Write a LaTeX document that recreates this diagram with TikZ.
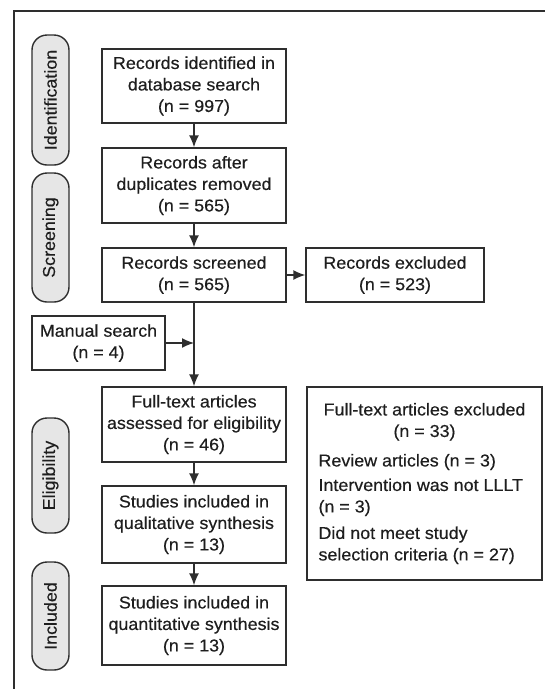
\documentclass[tikz,border=0pt]{standalone}
\usepackage{fontspec}
\setmainfont{Liberation Sans}[FakeStretch=1.04,FakeBold=0.4]
\usetikzlibrary{arrows.meta}
\definecolor{ink}{HTML}{1E1E1E}
\definecolor{linec}{HTML}{2E2E2E}
\definecolor{pillfill}{HTML}{E6E6E6}
\begin{document}
\begin{tikzpicture}[x=1pt,y=-1pt,
  every node/.style={font=\fontsize{17.2}{21.5}\selectfont, text=ink},
  flowbox/.style={draw=linec, line width=1.4pt, rectangle, align=center, inner sep=0pt, minimum width=184pt},
  pill/.style={draw=linec, line width=1.4pt, fill=pillfill, rounded corners=15pt, rotate=90, minimum height=37pt, inner sep=0pt},
  arr/.style={draw=linec, line width=1.4pt, -{Latex[length=12pt,width=10pt]}},
  frame/.style={draw=linec, line width=1.6pt}
]
\useasboundingbox (0,0) rectangle (545,689);
\draw[frame] (545,11) -- (14,11) -- (14,689);

% stage pills
\node[pill, minimum width=130pt] (pid) at (50.5,100) {Identification};
\node[pill, minimum width=129pt] (psc) at (50.5,237.5) {Screening};
\node[pill, minimum width=115pt] (pel) at (50.5,475.5) {Eligibility};
\node[pill, minimum width=108pt] (pin) at (50.5,616) {Included};

% main boxes
\node[flowbox, minimum height=74pt] (b1) at (194,86) {Records identified in\\database search\\(n = 997)};
\node[flowbox, minimum height=75pt] (b2) at (194,185.5) {Records after\\duplicates removed\\(n = 565)};
\node[flowbox, minimum height=54pt] (b3) at (194,275) {Records screened\\(n = 565)};
\node[flowbox, minimum width=178pt, minimum height=54pt] (bx) at (395,275) {Records excluded\\(n = 523)};
\node[flowbox, minimum width=133pt, minimum height=54pt] (bm) at (98.5,343) {Manual search\\(n = 4)};
\node[flowbox, minimum height=75pt] (b4) at (194,424.5) {Full-text articles\\assessed for eligibility\\(n = 46)};
\node[flowbox, minimum height=77pt] (b5) at (194,524.5) {Studies included in\\qualitative synthesis\\(n = 13)};
\node[flowbox, minimum height=79pt] (b6) at (194,625.5) {Studies included in\\quantitative synthesis\\(n = 13)};
\node[flowbox, minimum width=235pt, minimum height=193pt, align=left] (bf) at (424.5,483.5)
  {\makebox[212pt]{Full-text articles excluded}\\
   \makebox[212pt]{(n = 33)}\\[8pt]
   Review articles (n = 3)\\[3pt]
   Intervention was not LLLT\\
   (n = 3)\\[5pt]
   Did not meet study\\
   selection criteria (n = 27)};

% connectors
\coordinate (join) at (b3.south |- bm.east);
\draw[arr] (b1) -- (b2);
\draw[arr] (b2) -- (b3);
\draw[arr] (b3) -- (bx);
\draw[arr] (b3) -- (b4);
\draw[arr] (bm) -- (join);
\draw[arr] (b4) -- (b5);
\draw[arr] (b5) -- (b6);
\end{tikzpicture}
\end{document}
